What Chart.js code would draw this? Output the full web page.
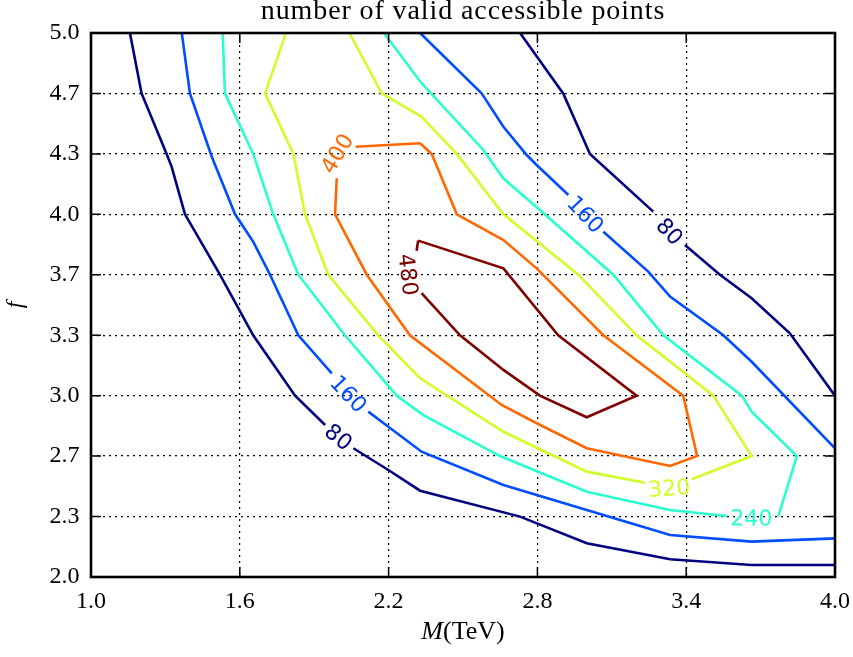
<!DOCTYPE html>
<html>
<head>
<meta charset="utf-8">
<title>number of valid accessible points</title>
<script src="https://cdn.jsdelivr.net/npm/chart.js@4.4.1/dist/chart.umd.min.js"></script>
<style>
  html, body { margin: 0; padding: 0; background: #fff; }
  #wrap { width: 853px; height: 657px; }
</style>
</head>
<body>
<div id="wrap"><canvas id="contour" width="853" height="657"></canvas></div>
<script>
/* ================= DATA ================= */

const titleText = "number of valid accessible points";

const levels = [80, 160, 240, 320, 400, 480];
const levelColors = ["#000080", "#004cff", "#29ffce", "#ceff29", "#ff6800", "#800000"];

const xTicks = [1.0, 1.6, 2.2, 2.8, 3.4, 4.0];
const xTickLabels = ["1.0", "1.6", "2.2", "2.8", "3.4", "4.0"];
const yTicks = [2.0, 2.333, 2.667, 3.0, 3.333, 3.667, 4.0, 4.333, 4.667, 5.0];
const yTickLabels = ["2.0", "2.3", "2.7", "3.0", "3.3", "3.7", "4.0", "4.3", "4.7", "5.0"];

// contour paths as [M, f]. null breaks the line for an inline label;
// a lone point between two nulls is where that label sits.
const c80Left = [
  [1.157, 5.0], [1.204, 4.667], [1.305, 4.333], [1.325, 4.263], [1.379, 4.0], [1.520, 3.667],
  [1.654, 3.333], [1.823, 3.0], [1.944, 2.838], null, [2.000, 2.775], null, [2.058, 2.710],
  [2.199, 2.590], [2.327, 2.476], [2.730, 2.333], [2.999, 2.186], [3.335, 2.098], [3.664, 2.066], [4.0, 2.066]
];
const c80Right = [
  [2.730, 5.0], [2.904, 4.667], [3.012, 4.333], [3.267, 4.015], null, [3.335, 3.908], null, [3.395, 3.831],
  [3.536, 3.667], [3.664, 3.537], [3.818, 3.344], [4.0, 3.0]
];
const c160Left = [
  [1.366, 5.0], [1.399, 4.667], [1.487, 4.318], [1.581, 4.0], [1.654, 3.849], [1.722, 3.667], [1.836, 3.333],
  [1.971, 3.123], null, [2.040, 3.012], null, [2.118, 2.912],
  [2.199, 2.829], [2.333, 2.691], [2.663, 2.507], [2.999, 2.369], [3.335, 2.232], [3.664, 2.195], [4.0, 2.213]
];
const c160Right = [
  [2.327, 5.0], [2.575, 4.667], [2.663, 4.483], [2.757, 4.327], [2.797, 4.272],
  [2.925, 4.107], null, [2.996, 4.002], null, [3.066, 3.904],
  [3.247, 3.684], [3.335, 3.546], [3.550, 3.333], [3.664, 3.187], [4.0, 2.710]
];
const c240 = [
  [1.531, 5.0], [1.540, 4.667], [1.654, 4.333], [1.735, 4.0], [1.836, 3.667], [2.024, 3.333], [2.233, 3.0],
  [2.340, 2.893], [2.649, 2.667], [2.999, 2.470], [3.335, 2.369],
  [3.563, 2.336], null, [3.663, 2.328], null, [3.771, 2.333],
  [3.846, 2.667], [3.664, 2.912], [3.624, 3.0], [3.308, 3.333], [3.106, 3.667], [2.810, 4.024],
  [2.662, 4.199], [2.582, 4.355], [2.333, 4.723], [2.181, 5.0]
];
const c320 = [
  [1.786, 5.0], [1.702, 4.667], [1.816, 4.333], [1.863, 4.0], [1.957, 3.667], [2.158, 3.333], [2.327, 3.096],
  [2.663, 2.801], [2.999, 2.581], [3.234, 2.520], null, [3.331, 2.494], null, [3.422, 2.539],
  [3.664, 2.667], [3.509, 3.0], [3.200, 3.333], [2.965, 3.667], [2.663, 4.0], [2.475, 4.333],
  [2.333, 4.538], [2.172, 4.667], [2.042, 5.0]
];
const c400 = [
  [2.327, 4.392], [2.374, 4.333], [2.475, 4.0], [2.663, 3.858], [2.797, 3.702], [3.066, 3.333], [3.388, 3.0],
  [3.444, 2.667], [3.335, 2.612], [2.999, 2.710], [2.797, 2.848], [2.656, 2.949], [2.286, 3.333],
  [2.112, 3.667], [1.984, 4.0], [1.991, 4.199], null, [1.990, 4.338], null, [2.067, 4.373], [2.327, 4.392]
];
const c480 = [
  [2.319, 3.855], [2.663, 3.702], [2.884, 3.333], [3.200, 3.0], [2.999, 2.881], [2.810, 3.0], [2.663, 3.142],
  [2.488, 3.333], [2.333, 3.565], null, [2.282, 3.668], null, [2.313, 3.799], [2.319, 3.855]
];

const contourPaths = [
  [80, c80Left], [80, c80Right], [160, c160Left], [160, c160Right],
  [240, c240], [320, c320], [400, c400], [480, c480]
];

/* ================= STYLE ================= */

const SERIF = "'Liberation Serif', 'Times New Roman', serif";
const SANS = "'DejaVu Sans', sans-serif";

Chart.defaults.font.family = SERIF;
Chart.defaults.color = "#000";

const colorOf = level => levelColors[levels.indexOf(level)];

const datasets = contourPaths.map(([level, pts]) => ({
  label: String(level),
  data: pts.map(p => (p ? { x: p[0], y: p[1] } : { x: NaN, y: null })),
  showLine: true,
  spanGaps: false,
  borderColor: colorOf(level),
  backgroundColor: colorOf(level),
  borderWidth: 2.6,
  pointRadius: 0,
  pointHoverRadius: 0,
  tension: 0
}));

/* ================= PLUGINS ================= */

// inline contour labels, rotated along the gap left in each path
const contourLabels = {
  id: "contourLabels",
  afterDatasetsDraw(chart) {
    const { ctx, scales: { x, y } } = chart;
    ctx.save();
    ctx.font = `22px ${SANS}`;
    ctx.textAlign = "center";
    ctx.textBaseline = "alphabetic";
    contourPaths.forEach(([level, pts]) => {
      for (let i = 2; i < pts.length - 2; i++) {
        if (!pts[i] || pts[i - 1] || pts[i + 1]) continue;
        const a = pts[i - 2], b = pts[i + 2];
        const ax = x.getPixelForValue(a[0]), ay = y.getPixelForValue(a[1]);
        const bx = x.getPixelForValue(b[0]), by = y.getPixelForValue(b[1]);
        const cx = x.getPixelForValue(pts[i][0]), cy = y.getPixelForValue(pts[i][1]);
        let ang = Math.atan2(by - ay, bx - ax);
        if (ang > Math.PI / 2) ang -= Math.PI;
        if (ang <= -Math.PI / 2) ang += Math.PI;
        const text = String(level);
        const m = ctx.measureText(text);
        ctx.save();
        ctx.translate(cx, cy);
        ctx.rotate(ang);
        ctx.fillStyle = colorOf(level);
        ctx.fillText(text, 0, (m.actualBoundingBoxAscent - m.actualBoundingBoxDescent) / 2);
        ctx.restore();
      }
    });
    ctx.restore();
  }
};

// box frame with inward tick marks on all four sides
const frame = {
  id: "frame",
  afterDatasetsDraw(chart) {
    const { ctx, chartArea: { left, right, top, bottom }, scales: { x, y } } = chart;
    const len = 10;
    ctx.save();
    ctx.strokeStyle = "#000";
    ctx.lineWidth = 1.5;
    ctx.beginPath();
    xTicks.forEach(v => {
      const px = x.getPixelForValue(v);
      ctx.moveTo(px, bottom); ctx.lineTo(px, bottom - len);
      ctx.moveTo(px, top); ctx.lineTo(px, top + len);
    });
    yTicks.forEach(v => {
      const py = y.getPixelForValue(v);
      ctx.moveTo(left, py); ctx.lineTo(left + len, py);
      ctx.moveTo(right, py); ctx.lineTo(right - len, py);
    });
    ctx.stroke();
    ctx.lineWidth = 2.6;
    ctx.strokeRect(left, top, right - left, bottom - top);
    ctx.restore();
  }
};

// title above the plot, and the x axis title: italic M followed by upright (TeV)
const titles = {
  id: "titles",
  afterDraw(chart) {
    const { ctx, chartArea: { left, right, top, bottom } } = chart;
    const cx = (left + right) / 2;
    ctx.save();
    ctx.fillStyle = "#000";
    ctx.textBaseline = "alphabetic";

    ctx.font = `28px ${SERIF}`;
    ctx.letterSpacing = "0.9px";
    ctx.textAlign = "center";
    ctx.fillText(titleText, cx, top - 14);
    ctx.letterSpacing = "0px";

    const italic = `italic 26px ${SERIF}`, upright = `26px ${SERIF}`;
    ctx.textAlign = "left";
    ctx.font = italic;
    const wM = ctx.measureText("M").width;
    ctx.font = upright;
    const wRest = ctx.measureText("(TeV)").width;
    const x0 = cx - (wM + wRest) / 2;
    const base = bottom + 62;
    ctx.font = italic;
    ctx.fillText("M", x0, base);
    ctx.font = upright;
    ctx.fillText("(TeV)", x0 + wM, base);
    ctx.restore();
  }
};

/* ================= CHART ================= */

new Chart(document.getElementById("contour").getContext("2d"), {
  type: "scatter",
  data: { datasets },
  options: {
    responsive: false,
    animation: false,
    events: [],
    layout: { padding: { top: 33, right: 18, bottom: 0, left: 0 } },
    plugins: {
      legend: { display: false },
      tooltip: { enabled: false },
      title: { display: false }
    },
    scales: {
      x: {
        type: "linear",
        min: 1.0,
        max: 4.0,
        afterBuildTicks: axis => { axis.ticks = xTicks.map(v => ({ value: v })); },
        afterFit: axis => {
          axis.height = 80;
          axis.paddingLeft = 0;
          axis.paddingRight = 0;
        },
        ticks: {
          autoSkip: false,
          maxRotation: 0,
          padding: 10,
          color: "#000",
          font: { family: SERIF, size: 24 },
          callback: (v, i) => xTickLabels[i]
        },
        grid: { color: "#000", lineWidth: 1.2, drawTicks: false },
        border: { display: false, dash: [2, 4] }
      },
      y: {
        type: "linear",
        min: 2.0,
        max: 5.0,
        afterBuildTicks: axis => { axis.ticks = yTicks.map(v => ({ value: v })); },
        afterFit: axis => {
          axis.width = 91;
          axis.paddingTop = 0;
          axis.paddingBottom = 0;
        },
        ticks: {
          autoSkip: false,
          padding: 11.5,
          color: "#000",
          font: { family: SERIF, size: 24 },
          callback: (v, i) => yTickLabels[i]
        },
        grid: { color: "#000", lineWidth: 1.2, drawTicks: false },
        border: { display: false, dash: [2, 4] },
        title: {
          display: true,
          text: "f",
          color: "#000",
          font: { family: SERIF, size: 24, style: "italic" },
          padding: { top: 1.6, bottom: 0 }
        }
      }
    }
  },
  plugins: [contourLabels, frame, titles]
});
</script>
</body>
</html>
